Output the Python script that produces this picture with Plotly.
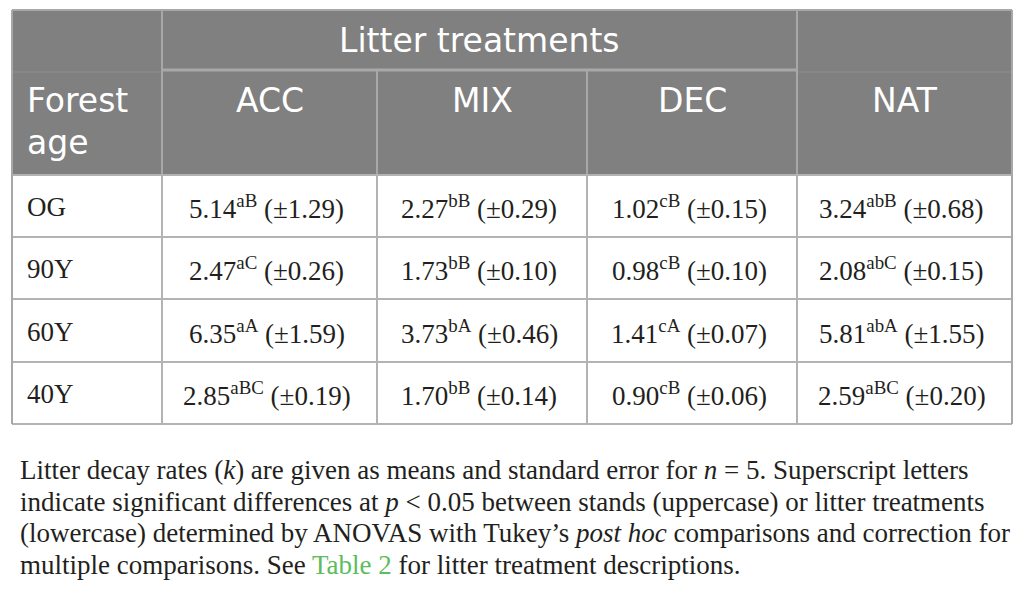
import plotly.graph_objects as go

# table content
forest_ages = ["OG", "90Y", "60Y", "40Y"]
treatments = ["ACC", "MIX", "DEC", "NAT"]

acc_mean = [5.14, 2.47, 6.35, 2.85]
acc_sig = ["aB", "aC", "aA", "aBC"]
acc_se = [1.29, 0.26, 1.59, 0.19]

mix_mean = [2.27, 1.73, 3.73, 1.70]
mix_sig = ["bB", "bB", "bA", "bB"]
mix_se = [0.29, 0.10, 0.46, 0.14]

dec_mean = [1.02, 0.98, 1.41, 0.90]
dec_sig = ["cB", "cB", "cA", "cB"]
dec_se = [0.15, 0.10, 0.07, 0.06]

nat_mean = [3.24, 2.08, 5.81, 2.59]
nat_sig = ["abB", "abC", "abA", "aBC"]
nat_se = [0.68, 0.15, 1.55, 0.20]

caption_lines = [
    "Litter decay rates (<i>k</i>) are given as means and standard error for <i>n</i> = 5. Superscript letters",
    "indicate significant differences at <i>p</i> &lt; 0.05 between stands (uppercase) or litter treatments",
    "(lowercase) determined by ANOVAS with Tukey\u2019s <i>post hoc</i> comparisons and correction for",
    "multiple comparisons. See <span style='color:#5cbd5c'>Table 2</span> for litter treatment descriptions.",
]

W, H = 1025, 596
PAD = 8  # page body margin of the html file
col_x = [12, 162, 377, 587, 797, 1012]
hdr_y = [10, 71, 175]
row_y = [175, 237, 299, 362, 424]

HEAD = "#808080"
HEAD_LINE = "#a8a8a8"
BODY_LINE = "#b3b3b3"
TXT = "#231f20"
sans = "DejaVu Sans"
serif = "Liberation Serif"

fig = go.Figure()
shapes = []
ann = []

# header background
shapes.append(dict(type="rect", x0=col_x[0], x1=col_x[-1], y0=hdr_y[0], y1=hdr_y[2],
                   fillcolor=HEAD, line=dict(width=0), layer="below"))

def hline(x0, x1, y, color, w):
    shapes.append(dict(type="line", x0=x0, x1=x1, y0=y, y1=y, line=dict(color=color, width=w)))

def vline(x, y0, y1, color, w):
    shapes.append(dict(type="line", x0=x, x1=x, y0=y0, y1=y1, line=dict(color=color, width=w)))

# header lines
hline(col_x[0], col_x[1], hdr_y[1] + 1, "#8e8e8e", 1)
hline(col_x[4], col_x[5], hdr_y[1] + 1, "#8e8e8e", 1)
hline(col_x[1], col_x[4], hdr_y[1] - 1, HEAD_LINE, 3)
vline(col_x[1], hdr_y[0], hdr_y[2], HEAD_LINE, 2)
vline(col_x[4], hdr_y[0], hdr_y[2], HEAD_LINE, 2)
vline(col_x[2], hdr_y[1], hdr_y[2], HEAD_LINE, 2)
vline(col_x[3], hdr_y[1], hdr_y[2], HEAD_LINE, 2)
hline(col_x[0], col_x[-1], hdr_y[0], HEAD_LINE, 2)

# body grid
for y in row_y:
    hline(col_x[0], col_x[-1], y, BODY_LINE, 2)
for x in col_x:
    outer = x in (col_x[0], col_x[-1])
    vline(x, hdr_y[0] if outer else row_y[0], row_y[-1], HEAD_LINE if outer else BODY_LINE, 2)

# header text
ann.append(dict(x=(col_x[1] + col_x[4]) / 2, y=40, text="Litter treatments",
                font=dict(family=sans, size=33, color="white")))
ann.append(dict(x=25, y=100, text="Forest", xanchor="left",
                font=dict(family=sans, size=33, color="white")))
ann.append(dict(x=25, y=142, text="age", xanchor="left",
                font=dict(family=sans, size=33, color="white")))
for i, t in enumerate(treatments):
    ann.append(dict(x=(col_x[i + 1] + col_x[i + 2]) / 2, y=100, text=t,
                    font=dict(family=sans, size=33, color="white")))

# body text
cols = [(acc_mean, acc_sig, acc_se), (mix_mean, mix_sig, mix_se),
        (dec_mean, dec_sig, dec_se), (nat_mean, nat_sig, nat_se)]
for r, age in enumerate(forest_ages):
    yc = (row_y[r] + row_y[r + 1]) / 2 + 1
    ann.append(dict(x=25, y=yc, text=age, xanchor="left",
                    font=dict(family=serif, size=27, color=TXT)))
    for c, (m, s, e) in enumerate(cols):
        txt = f"{m[r]:.2f}<sup>{s[r]}</sup> (\u00b1{e[r]:.2f})"
        ann.append(dict(x=(col_x[c + 1] + col_x[c + 2]) / 2 - 3, y=yc, text=txt,
                        font=dict(family=serif, size=27, color=TXT)))

# caption
for i, line in enumerate(caption_lines):
    ann.append(dict(x=18, y=470 + i * 31.6, text=line, xanchor="left",
                    font=dict(family=serif, size=27, color=TXT)))

for a in ann:
    a.update(xref="x", yref="y", showarrow=False)
    a.setdefault("xanchor", "center")
    a.setdefault("yanchor", "middle")

fig.update_layout(
    width=W - PAD, height=H - PAD,
    margin=dict(l=0, r=0, t=0, b=0),
    paper_bgcolor="white", plot_bgcolor="white",
    xaxis=dict(range=[PAD, W], visible=False, fixedrange=True),
    yaxis=dict(range=[H, PAD], visible=False, fixedrange=True),
    shapes=shapes,
    annotations=ann,
    showlegend=False,
)

fig.write_html("out.html")
